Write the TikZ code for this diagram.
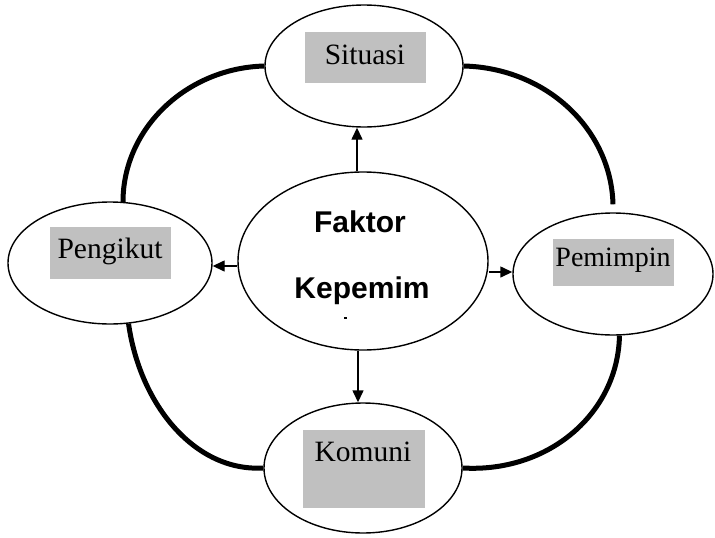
\documentclass[tikz,border=0pt]{standalone}
\usepackage{fontspec}
\setmainfont{Liberation Serif}
\newfontfamily\arialf{Liberation Sans}
\usetikzlibrary{shapes.geometric,arrows.meta}
\definecolor{boxgray}{RGB}{192,192,192}
\begin{document}
\begin{tikzpicture}[x=1pt,y=-1pt,
  oval/.style={draw,ellipse,line width=1.4pt,inner sep=0pt},
  graybox/.style={fill=boxgray,draw=none,inner sep=0pt,rectangle},
  lbl/.style={anchor=base,inner sep=0pt,font=\fontsize{29.5}{29.5}\selectfont},
  ctr/.style={anchor=base,inner sep=0pt,font=\arialf\bfseries\fontsize{30}{30}\selectfont},
  link/.style={line width=5pt},
  arr/.style={line width=1.4pt,-{Triangle[length=12pt,width=11pt]}}]
\useasboundingbox (0,0) rectangle (715,538);
% ellipses
\node[oval,minimum width=198pt,minimum height=122pt] (sit) at (364,66) {};
\node[oval,minimum width=204pt,minimum height=122pt] (pgk) at (110,263) {};
\node[oval,minimum width=200pt,minimum height=122pt] (pem) at (613,274) {};
\node[oval,minimum width=198pt,minimum height=130pt] (kom) at (363,468) {};
\node[oval,minimum width=250pt,minimum height=178pt] (c) at (363,261) {};
% gray boxes
\node[graybox,minimum width=121pt,minimum height=51pt] (bsit) at (365.5,57.5) {};
\node[graybox,minimum width=121pt,minimum height=52pt] (bpgk) at (110.5,253) {};
\node[graybox,minimum width=121pt,minimum height=47pt] (bpem) at (613.5,262.5) {};
\node[graybox,minimum width=122pt,minimum height=78pt] (bkom) at (364,469) {};
% labels
\node[lbl] (tsit) at (365,64) {Situasi};
\node[lbl] (tpgk) at (110,258) {Pengikut};
\node[lbl,font=\fontsize{28}{28}\selectfont] (tpem) at (613,266) {Pemimpin};
\node[lbl] (tkom) at (363,461) {Komuni};
\node[ctr] (t1) at (360,232) {Faktor};
\node[ctr] (t2) at (362,298) {Kepemim};
\node[fill=black,inner sep=0pt,minimum width=3pt,minimum height=2.5pt] (dot) at (345,318) {};
% arrows
\draw[arr] ([xshift=-6pt]c.north) -- ([xshift=-6pt]c.north |- sit.south);
\draw[arr] ([xshift=-5pt]c.south) -- ([xshift=-5pt]c.south |- kom.north);
\draw[arr] ([yshift=-5pt]c.west) -- ([yshift=-5pt]c.west -| pgk.east);
\draw[arr] ([yshift=-11pt]c.east) -- ([yshift=-11pt]c.east -| pem.west);
% thick connectors
\draw[link] (sit.west) .. controls (187,68) and (123,128) .. (pgk.78);
\draw[link] (sit.east) .. controls (546,68) and (611,129) .. ([yshift=8pt]pem.north);
\draw[link] (pgk.-73) .. controls (140,405) and (195,472) .. (kom.west);
\draw[link] (pem.-84) .. controls (618,413) and (549,473) .. (kom.east);
\end{tikzpicture}
\end{document}
